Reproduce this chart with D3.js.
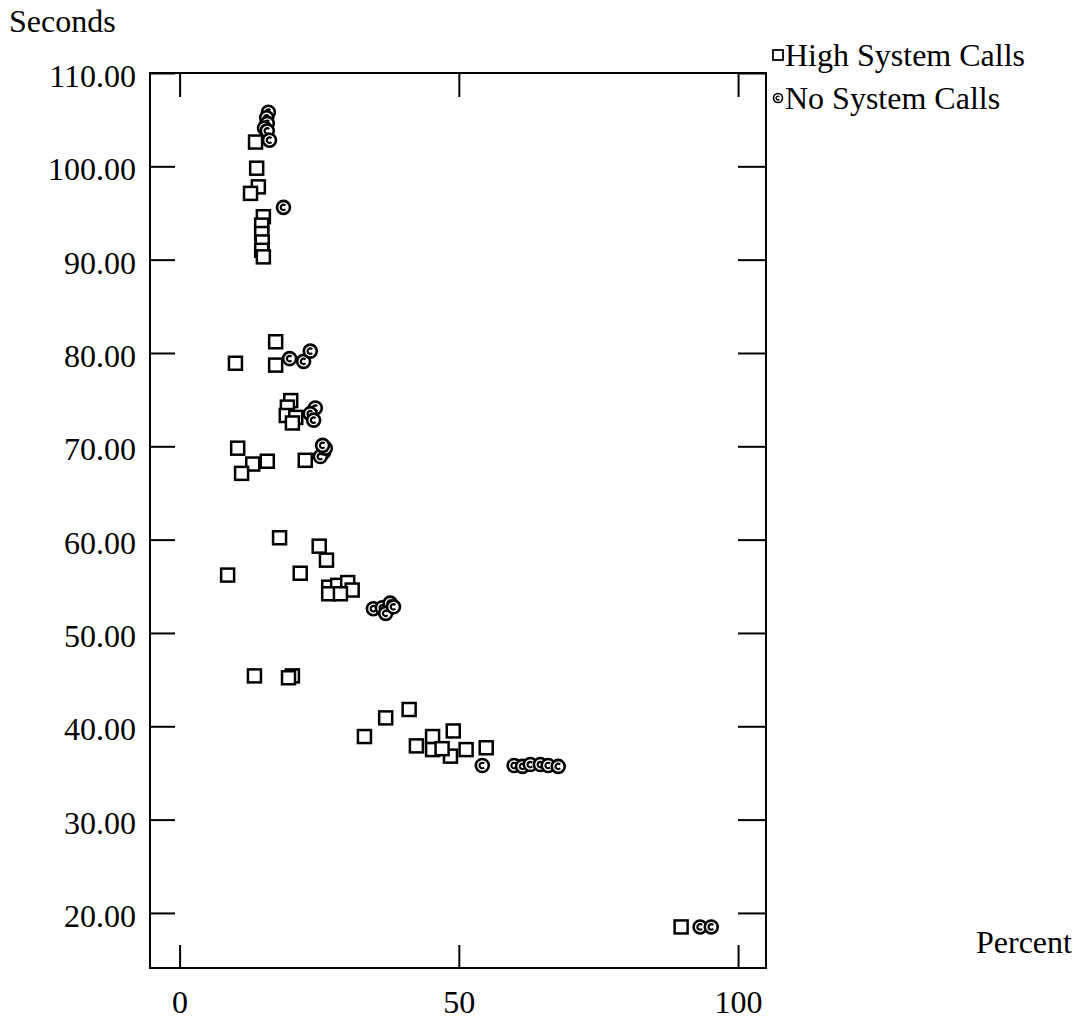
<!DOCTYPE html>
<html>
<head>
<meta charset="utf-8">
<script src="https://cdn.jsdelivr.net/npm/d3@7"></script>
<style>
    body { margin: 0; background: #fff; }
    text { font-family: "Liberation Serif", "Times New Roman", serif; fill: #000; }
</style>
</head>
<body>
<script>
// High System Calls (squares)
const highPct = [13.6, 13.8, 14.1, 12.7, 15.0, 14.7, 14.7, 14.8, 14.7, 15.0,
    17.2, 10.0, 17.2, 19.9, 19.3, 19.1, 20.8, 20.2,
    10.4, 13.1, 11.1, 15.7, 22.5, 17.9, 8.6, 21.6, 25.0, 26.3,
    26.7, 28.3, 30.1, 30.9, 26.7, 28.8, 13.4, 20.2, 19.5,
    33.1, 36.9, 41.1, 42.4, 45.3, 45.3, 49.0, 48.5, 47.0, 51.3, 54.9, 89.8]
const highSec = [102.6, 99.8, 97.8, 97.1, 94.6, 93.7, 92.8, 91.9, 91.0, 90.3,
    81.2, 78.9, 78.7, 74.9, 74.2, 73.3, 73.1, 72.5,
    69.8, 68.1, 67.1, 68.4, 68.5, 60.2, 56.2, 56.4, 59.3, 57.8,
    54.9, 55.1, 55.4, 54.6, 54.2, 54.2, 45.4, 45.4, 45.2,
    38.9, 40.9, 41.8, 37.9, 38.9, 37.5, 39.5, 36.8, 37.6, 37.5, 37.7, 18.5]

// No System Calls (circles)
const noPct = [15.9, 15.6, 15.7, 15.2, 15.7, 16.1, 18.6,
    19.7, 22.2, 23.4, 24.3, 23.4, 24.0, 25.8, 25.2, 26.1, 25.6,
    34.7, 36.3, 37.7, 36.9, 38.3,
    54.2, 59.9, 61.4, 62.8, 64.6, 66.0, 67.8, 93.2, 95.2]
const noSec = [105.8, 105.2, 104.6, 104.1, 103.8, 102.8, 95.6,
    79.4, 79.1, 80.2, 74.1, 73.5, 72.8, 69.4, 68.9, 69.8, 70.1,
    52.6, 52.7, 53.2, 52.1, 52.8,
    35.8, 35.8, 35.7, 35.9, 35.9, 35.8, 35.7, 18.5, 18.5]

const yTicks = [20, 30, 40, 50, 60, 70, 80, 90, 100, 110]
const xTicks = [0, 50, 100]
const seriesNames = ["High System Calls", "No System Calls"]

const svgWidth = 1091;
const svgHeight = 1021;
const plot = {left: 150, right: 766, top: 73, bottom: 968}
const fontSize = 32

window.onload = main;

function main() {
    const high = highPct.map((p, i) => ({pct: p, sec: highSec[i]}))
    const none = noPct.map((p, i) => ({pct: p, sec: noSec[i]}))
    render_data(high, none)
}

// circle with a small "c" inside, like the plotter glyph
function circleGlyph(r) {
    const ir = r * 0.42
    const a0 = Math.PI / 4, a1 = -Math.PI / 4
    return `M${ir * Math.cos(a0)},${-ir * Math.sin(a0)} A${ir},${ir} 0 1 0 ${ir * Math.cos(a1)},${-ir * Math.sin(a1)}`
}

function render_data(high, none) {
    const svg = d3.select("body").append("svg")
        .attr("width", svgWidth)
        .attr("height", svgHeight)

    const scaleX = d3.scaleLinear()
        .domain([-5.3, 105])
        .range([plot.left, plot.right])

    const scaleY = d3.scaleLinear()
        .domain([14.1, 110])
        .range([plot.bottom, plot.top])

    const styleAxis = g => {
        g.select(".domain").remove()
        g.selectAll("line").attr("stroke", "#000").attr("stroke-width", 2)
        g.selectAll("text")
            .attr("font-family", "Liberation Serif")
            .attr("font-size", fontSize)
            .attr("fill", "#000")
    }

    // left axis with labels
    svg.append("g")
        .attr("transform", `translate(${plot.left},0)`)
        .call(d3.axisLeft(scaleY).tickValues(yTicks).tickSize(-25).tickPadding(14)
            .tickFormat(d3.format(".2f")))
        .call(styleAxis)
        .call(g => g.selectAll("text").attr("dy", "0.42em"))

    // right axis ticks only
    svg.append("g")
        .attr("transform", `translate(${plot.right},0)`)
        .call(d3.axisRight(scaleY).tickValues(yTicks).tickSize(-28).tickFormat(""))
        .call(styleAxis)

    // bottom axis
    svg.append("g")
        .attr("transform", `translate(0,${plot.bottom})`)
        .call(d3.axisBottom(scaleX).tickValues(xTicks).tickSize(-23).tickPadding(22))
        .call(styleAxis)

    // top axis ticks only
    svg.append("g")
        .attr("transform", `translate(0,${plot.top})`)
        .call(d3.axisTop(scaleX).tickValues(xTicks).tickSize(-24).tickFormat(""))
        .call(styleAxis)

    // frame
    svg.append("rect")
        .attr("x", plot.left)
        .attr("y", plot.top)
        .attr("width", plot.right - plot.left)
        .attr("height", plot.bottom - plot.top)
        .attr("fill", "none")
        .attr("stroke", "#000")
        .attr("stroke-width", 2)

    // axis titles
    svg.append("text")
        .attr("x", 9).attr("y", 32)
        .attr("font-size", fontSize)
        .text("Seconds")

    svg.append("text")
        .attr("x", 976).attr("y", 953)
        .attr("font-size", fontSize)
        .text("Percent")

    const sq = 13

    svg.append("g")
        .selectAll("rect")
        .data(high)
        .join("rect")
        .attr("x", d => scaleX(d.pct) - sq / 2)
        .attr("y", d => scaleY(d.sec) - sq / 2)
        .attr("width", sq)
        .attr("height", sq)
        .attr("fill", "#fff")
        .attr("stroke", "#000")
        .attr("stroke-width", 2.5)

    const cr = 6.5
    const circles = svg.append("g")
        .selectAll("g")
        .data(none)
        .join("g")
        .attr("transform", d => `translate(${scaleX(d.pct)},${scaleY(d.sec)})`)

    circles.append("circle")
        .attr("r", cr)
        .attr("fill", "#fff")
        .attr("stroke", "#000")
        .attr("stroke-width", 2.6)

    circles.append("path")
        .attr("d", circleGlyph(cr))
        .attr("fill", "none")
        .attr("stroke", "#000")
        .attr("stroke-width", 2.2)

    // legend
    const legend = svg.append("g")
    const legY = [55, 98]

    legend.append("rect")
        .attr("x", 773).attr("y", legY[0] - 5)
        .attr("width", 10).attr("height", 10)
        .attr("fill", "#fff").attr("stroke", "#000").attr("stroke-width", 1.8)

    const lc = legend.append("g").attr("transform", `translate(778,${legY[1]})`)
    lc.append("circle").attr("r", 4.5)
        .attr("fill", "#fff").attr("stroke", "#000").attr("stroke-width", 1.6)
    lc.append("path").attr("d", circleGlyph(4.5))
        .attr("fill", "none").attr("stroke", "#000").attr("stroke-width", 1.4)

    legend.selectAll("text")
        .data(seriesNames)
        .join("text")
        .attr("x", 785)
        .attr("y", (d, i) => legY[i])
        .attr("dy", "0.35em")
        .attr("font-size", fontSize)
        .text(d => d)
}
</script>
</body>
</html>
